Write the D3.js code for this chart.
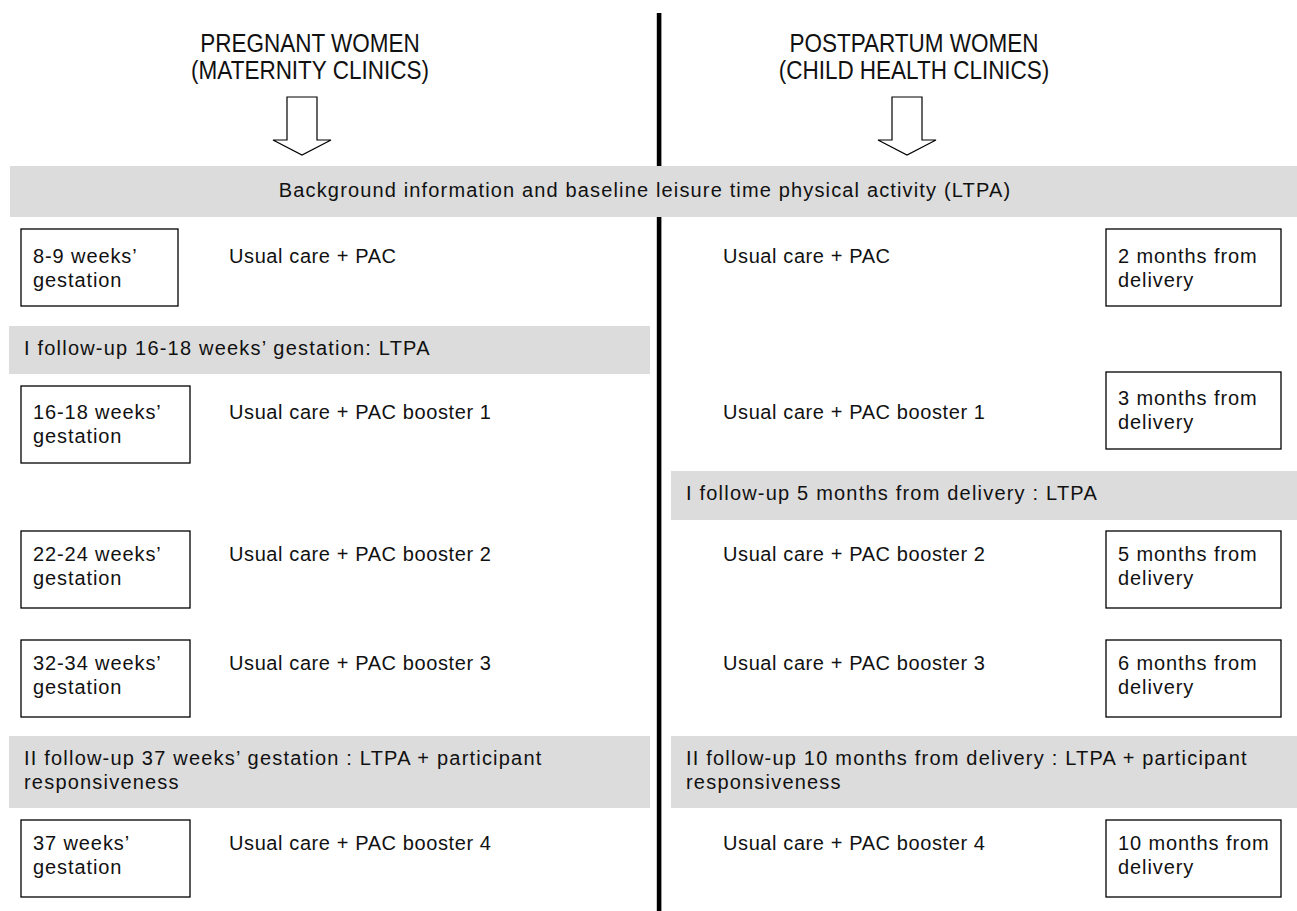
<!DOCTYPE html>
<html><head><meta charset="utf-8">
<script src="https://cdn.jsdelivr.net/npm/d3@7"></script>
<style>
html,body{margin:0;padding:0;background:#fff;}
text{font-family:"Liberation Sans",Arial,Helvetica,sans-serif;fill:#111;}
</style></head>
<body><svg id="c" width="1297" height="911"></svg>
<script>
// ---- data ----
const groupTitles = [["PREGNANT WOMEN","(MATERNITY CLINICS)"],["POSTPARTUM WOMEN","(CHILD HEALTH CLINICS)"]];
const baselineBand = "Background information and baseline leisure time physical activity (LTPA)";
const interventions = ["Usual care + PAC","Usual care + PAC booster 1","Usual care + PAC booster 2","Usual care + PAC booster 3","Usual care + PAC booster 4"];
const pregnantTimes = [["8-9 weeks\u2019","gestation"],["16-18 weeks\u2019","gestation"],["22-24 weeks\u2019","gestation"],["32-34 weeks\u2019","gestation"],["37 weeks\u2019","gestation"]];
const postpartumTimes = [["2 months from","delivery"],["3 months from","delivery"],["5 months from","delivery"],["6 months from","delivery"],["10 months from","delivery"]];
const pregnantFollowups = [["I follow-up 16-18 weeks\u2019 gestation: LTPA"],["II follow-up 37 weeks\u2019 gestation : LTPA + participant","responsiveness"]];
const postpartumFollowups = [["I follow-up 5 months from delivery : LTPA"],["II follow-up 10 months from delivery : LTPA + participant","responsiveness"]];

// ---- layout ----
const svg = d3.select("#c");
const W = 1297, H = 911;
const rows = d3.range(5);
const rowTopL = d3.scaleOrdinal().domain(rows).range([229,386,531,640,820]);
const rowTopR = d3.scaleOrdinal().domain(rows).range([229,372,531,640,820]);
const textDy = d3.scaleOrdinal().domain(rows).range([34,33,30,30,30]);
const boxH = 77, fs = 20, lh = 24;
const divX = 659;

svg.append("rect").attr("x",divX-2.2).attr("y",13).attr("width",4.6).attr("height",H-13).attr("fill","#000");

const arrowCenters = [302, 907];
const titleCenters = [310, 914];
groupTitles.forEach((t,i)=>{
  const g = svg.append("g");
  t.forEach((s,j)=>g.append("text")
    .attr("transform",`translate(${titleCenters[i]},${52+j*27}) scale(0.9,1)`)
    .attr("text-anchor","middle").style("font-size","25px").text(s));
  const c = arrowCenters[i];
  const p = d3.path();
  p.moveTo(c-15,97); p.lineTo(c+15,97); p.lineTo(c+15,140); p.lineTo(c+29,140);
  p.lineTo(c,155); p.lineTo(c-29,140); p.lineTo(c-15,140); p.closePath();
  svg.append("path").attr("d",p.toString()).attr("fill","#fff").attr("stroke","#000").attr("stroke-width",1.2);
});

svg.append("rect").attr("x",10).attr("y",166).attr("width",W-10).attr("height",51).attr("fill","#dcdcdc");
svg.append("text").attr("x",645).attr("y",197).attr("text-anchor","middle")
  .style("font-size","20px").style("letter-spacing","1.15px").text(baselineBand);

function band(x0,x1,y0,h,lines){
  svg.append("rect").attr("x",x0).attr("y",y0).attr("width",x1-x0).attr("height",h).attr("fill","#dcdcdc");
  lines.forEach((s,j)=>svg.append("text").attr("x",x0+15).attr("y",y0+29+j*lh)
    .style("font-size",fs+"px").style("letter-spacing","1.2px").text(s));
}
band(9,650,326,48,pregnantFollowups[0]);
band(9,650,736,72,pregnantFollowups[1]);
band(671,W,471,49,postpartumFollowups[0]);
band(671,W,736,72,postpartumFollowups[1]);

function box(x0,w,y0,lines,dy){
  svg.append("rect").attr("x",x0).attr("y",y0).attr("width",w).attr("height",boxH)
    .attr("fill","#fff").attr("stroke","#000").attr("stroke-width",1.3);
  lines.forEach((s,j)=>svg.append("text").attr("x",x0+12).attr("y",y0+dy+j*lh)
    .style("font-size",fs+"px").style("letter-spacing","0.9px").text(s));
}
rows.forEach(i=>{
  box(21, i===0?157:169, rowTopL(i), pregnantTimes[i], textDy(i));
  svg.append("text").attr("x",229).attr("y",rowTopL(i)+textDy(i))
    .style("font-size",fs+"px").style("letter-spacing","0.6px").text(interventions[i]);
  box(1106,175,rowTopR(i),postpartumTimes[i], textDy(i));
  svg.append("text").attr("x",723).attr("y",rowTopL(i)+textDy(i))
    .style("font-size",fs+"px").style("letter-spacing","0.6px").text(interventions[i]);
});
</script></body></html>
